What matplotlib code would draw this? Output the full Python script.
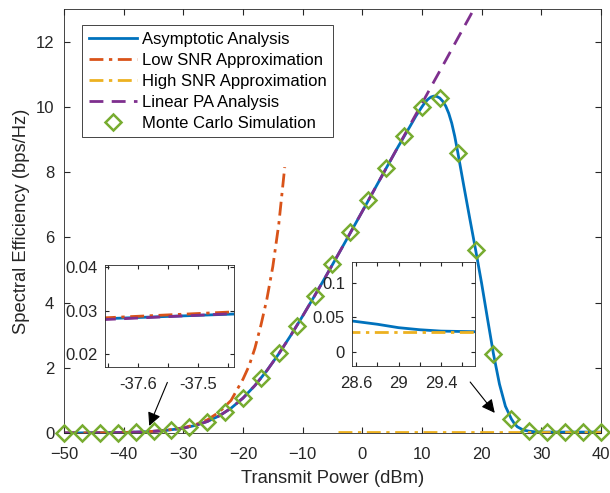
import matplotlib.pyplot as plt

plt.rcParams['font.family'] = ['Liberation Sans', 'DejaVu Sans']

# data
x_lin = [-50, -45, -40, -36, -33, -30, -28, -26, -24, -22, -20, -18, -16, -14, -12,
         -10, -8, -6, -4, -2, 0, 2, 4, 6, 8, 10, 12, 14, 16, 18, 20]
y_lin = [0.0016, 0.0050, 0.0158, 0.0393, 0.0774, 0.150, 0.232, 0.352, 0.524, 0.761,
         1.070, 1.456, 1.912, 2.427, 2.989, 3.585, 4.204, 4.839, 5.485, 6.138, 6.794,
         7.454, 8.115, 8.778, 9.442, 10.104, 10.77, 11.43, 12.10, 12.76, 13.43]

x_asym = [-50, -45, -40, -36, -33, -30, -28, -26, -24, -22, -20, -18, -16, -14, -12,
          -10, -8, -6, -4, -2, 0, 2, 4, 6, 8, 9, 10, 10.5, 11, 11.5, 12, 12.5, 13, 13.5,
          14, 14.5, 15, 15.5, 16, 17, 18, 19, 20, 21, 22, 23, 24, 25, 25.5, 26, 27, 28,
          29, 30, 32, 35, 40]
y_asym = [0.0016, 0.0050, 0.0158, 0.0393, 0.0774, 0.150, 0.232, 0.352, 0.524, 0.761,
          1.070, 1.456, 1.912, 2.427, 2.989, 3.585, 4.204, 4.839, 5.485, 6.138, 6.794,
          7.454, 8.115, 8.775, 9.40, 9.72, 10.0, 10.13, 10.23, 10.30, 10.33, 10.32, 10.27,
          10.17, 10.02, 9.80, 9.50, 9.10, 8.62, 7.6, 6.6, 5.62, 4.6, 3.5, 2.42, 1.5, 0.82,
          0.43, 0.29, 0.19, 0.09, 0.055, 0.035, 0.03, 0.029, 0.029, 0.029]

x_low = [-50, -45, -40, -36, -33, -30, -28, -26, -24, -22, -20, -19, -18, -17, -16,
         -15, -14, -13]
y_low = [0.0016, 0.0050, 0.0159, 0.0398, 0.080, 0.160, 0.255, 0.40, 0.64, 1.0, 1.65,
         2.05, 2.6, 3.3, 4.1, 5.1, 6.4, 8.15]

x_high = [-4, 40]
y_high = [0.0294, 0.0294]

x_mc = [-50, -47, -44, -41, -38, -35, -32, -29, -26, -23, -20, -17, -14, -11, -8, -5,
        -2, 1, 4, 7, 10, 13, 16, 19, 22, 25, 28, 31, 34, 37, 40]
y_mc = [0.002, 0.003, 0.006, 0.013, 0.025, 0.049, 0.096, 0.187, 0.35, 0.63, 1.07, 1.68,
        2.44, 3.28, 4.21, 5.17, 6.15, 7.13, 8.12, 9.12, 10.01, 10.27, 8.58, 5.62, 2.42,
        0.43, 0.06, 0.03, 0.03, 0.03, 0.03]

# zoomed-in pieces
zl_x = [-37.66, -37.44]
zl_asym = [0.0281, 0.0292]
zl_low = [0.0283, 0.0297]
zl_lin = [0.0279, 0.0293]

zr_x = [28.5, 28.8, 29.0, 29.2, 29.4, 29.75]
zr_asym = [0.046, 0.040, 0.035, 0.032, 0.030, 0.029]
zr_high = [0.0294, 0.0294, 0.0294, 0.0294, 0.0294, 0.0294]

c_blue = (0, 0.447, 0.741)
c_red = (0.85, 0.325, 0.098)
c_yel = (0.929, 0.694, 0.125)
c_pur = (0.494, 0.184, 0.556)
c_grn = (0.466, 0.674, 0.188)
c_ax = '#262626'

fig = plt.figure(figsize=(6.1, 4.93), dpi=100)
ax = fig.add_axes([0.105, 0.1217, 0.88, 0.86])

ax.plot(x_asym, y_asym, color=c_blue, lw=2, label='Asymptotic Analysis')
ax.plot(x_low, y_low, color=c_red, lw=2, dashes=(5, 2, 1.2, 2), label='Low SNR Approximation')
ax.plot(x_high, y_high, color=c_yel, lw=2, dashes=(5, 2, 1.2, 2), label='High SNR Approximation')
ax.plot(x_lin, y_lin, color=c_pur, lw=2, dashes=(5, 3), label='Linear PA Analysis')
ax.plot(x_mc, y_mc, ls='none', marker='D', ms=8.5, mfc='none', mec=c_grn, mew=1.8,
        clip_on=False, zorder=5, label='Monte Carlo Simulation')

ax.set_xlim(-50, 40)
ax.set_ylim(0, 13)
ax.set_xticks(range(-50, 41, 10))
ax.set_yticks(range(0, 13, 2))
ax.tick_params(direction='in', top=True, right=True, labelsize=12, colors=c_ax, length=4)
ax.tick_params(axis='x', pad=10)
ax.tick_params(axis='y', pad=7)
for s in ax.spines.values():
    s.set_color(c_ax)
    s.set_linewidth(0.6)
ax.set_xlabel('Transmit Power (dBm)', fontsize=13.2, color=c_ax, labelpad=6)
ax.set_ylabel('Spectral Efficiency (bps/Hz)', fontsize=13.2, color=c_ax, labelpad=4)

leg = ax.legend(loc='upper left', bbox_to_anchor=(0.0335, 0.962), borderaxespad=0,
                fontsize=12, handlelength=2.9, labelspacing=0.36, fancybox=False,
                framealpha=1, edgecolor=c_ax, handletextpad=0.3, borderpad=0.4)
leg.get_frame().set_linewidth(0.6)

ax.annotate('', xy=(-35.9, 0.14), xytext=(-32.5, 1.63),
            arrowprops=dict(arrowstyle='-|>', color='k', lw=0.8, mutation_scale=20))
ax.annotate('', xy=(22.5, 0.55), xytext=(17.8, 1.63),
            arrowprops=dict(arrowstyle='-|>', color='k', lw=0.8, mutation_scale=20))

# left inset
axl = fig.add_axes([0.172, 0.2556, 0.2115, 0.2069])
axl.plot(zl_x, zl_asym, color=c_blue, lw=2)
axl.plot(zl_x, zl_low, color=c_red, lw=2, dashes=(5, 2, 1.2, 2))
axl.plot(zl_x, zl_lin, color=c_pur, lw=2, dashes=(5, 3))
axl.set_xlim(-37.655, -37.44)
axl.set_ylim(0.017, 0.0405)
axl.set_xticks([-37.65, -37.6, -37.55, -37.5, -37.45])
axl.set_xticklabels(['', '-37.6', '', '-37.5', ''])
axl.set_yticks([0.02, 0.03, 0.04])
axl.set_yticklabels(['0.02', '0.03', '0.04'])

# right inset
axr = fig.add_axes([0.577, 0.2576, 0.2016, 0.211])
axr.plot(zr_x, zr_asym, color=c_blue, lw=2)
axr.plot(zr_x, zr_high, color=c_yel, lw=2, dashes=(5, 2, 1.2, 2))
axr.set_xlim(28.56, 29.72)
axr.set_ylim(-0.021, 0.131)
axr.set_xticks([28.6, 28.8, 29.0, 29.2, 29.4, 29.6])
axr.set_xticklabels(['28.6', '', '29', '', '29.4', ''])
axr.set_yticks([0, 0.05, 0.1])
axr.set_yticklabels(['0', '0.05', '0.1'])

for a in (axl, axr):
    a.tick_params(direction='in', top=True, right=True, labelsize=12, colors=c_ax, length=3)
    a.tick_params(axis='x', pad=7)
    a.tick_params(axis='y', pad=5)
    for s in a.spines.values():
        s.set_color(c_ax)
        s.set_linewidth(0.6)

fig.savefig('out.png', dpi=100)
